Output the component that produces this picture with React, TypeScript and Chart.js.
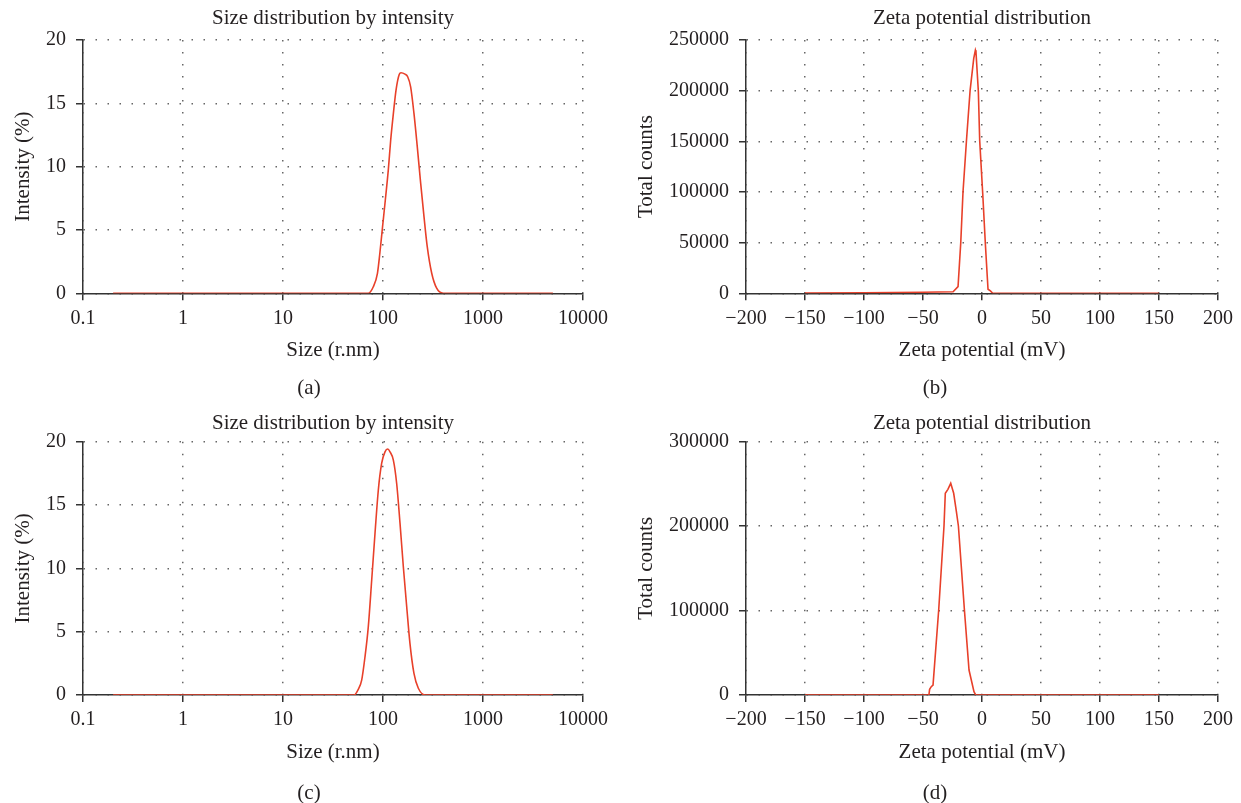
import React, { useEffect, useRef } from 'react';
import { Chart, registerables } from 'chart.js';

Chart.register(...registerables);

// ---------- data ----------
const SIZE_TICKS = [0.1, 1, 10, 100, 1000, 10000];
const ZETA_TICKS = [-200, -150, -100, -50, 0, 50, 100, 150, 200];

// (a) size distribution by intensity
const SIZE_A_X = [0.2, 71, 80, 88, 93, 99, 105.5, 113, 119.4, 127, 135, 145.6, 151.4, 166, 176.5, 189, 204, 220, 238, 257, 277, 307, 344, 401, 5000];
const SIZE_A_Y = [0, 0, 0.52, 1.58, 3.16, 5.26, 7.37, 9.74, 12.1, 14.2, 16.05, 17.3, 17.42, 17.3, 17.1, 16.3, 14.2, 11.6, 8.7, 6.05, 3.68, 1.58, 0.4, 0, 0];

// (b) zeta potential distribution
const ZETA_B_X = [-150, -100, -50, -24.5, -20.3, -18, -16.1, -13.2, -10.1, -7, -5.6, -5.1, -3.1, -1.95, 0.6, 2.85, 4.55, 5.1, 7.1, 9.1, 150];
const ZETA_B_Y = [300, 600, 1000, 1500, 6600, 50000, 100000, 150000, 200000, 231800, 240000, 238000, 199400, 150700, 98700, 48700, 14900, 4000, 2400, 0, 0];

// (c) size distribution by intensity
const SIZE_C_X = [0.2, 51.3, 56.6, 61.2, 66.1, 71.3, 77.1, 83.2, 89.8, 97, 104.7, 111.4, 117.5, 126.9, 137, 148, 159.7, 172.6, 186, 204, 225.6, 263, 5000];
const SIZE_C_Y = [0, 0, 0.45, 1.18, 3.03, 5.4, 9.08, 12.77, 16.19, 18.3, 19.2, 19.42, 19.2, 18.55, 16.7, 13.55, 10.13, 6.97, 4.08, 1.71, 0.53, 0, 0];

// (d) zeta potential distribution
const ZETA_D_X = [-150, -45, -44.4, -43, -41.5, -36.7, -32.2, -31.1, -28.9, -26.5, -24, -21.7, -20, -14.9, -11, -6.8, -5.3, 150];
const ZETA_D_Y = [0, 0, 6700, 9900, 11800, 100700, 200200, 238900, 243600, 250700, 238900, 217100, 200200, 100700, 29600, 4000, 0, 0];

const SIZE_Y_TICKS = { min: 0, max: 20, step: 5 };
const ZETA_B_Y_TICKS = { min: 0, max: 250000, step: 50000 };
const ZETA_D_Y_TICKS = { min: 0, max: 300000, step: 100000 };

// ---------- styles ----------
const LINE_COLOR = '#e8402a';
const TEXT_COLOR = '#231f20';
const AXIS_COLOR = '#333333';
const GRID_COLOR = '#666666';
const FONT_FAMILY = '"Liberation Serif", "Times New Roman", serif';

type PanelDef = {
  key: string;
  left: number; top: number; width: number; height: number;
  area: { left: number; right: number; top: number; bottom: number };
  kind: 'size' | 'zeta';
  xs: number[]; ys: number[];
  yTicks: { min: number; max: number; step: number };
  title: string; xTitle: string; yTitle: string; caption: string;
  titleY: number; xTitleY: number; yTitleX: number; captionX: number; captionY: number;
};

const PANELS: PanelDef[] = [
  {
    key: 'a', left: 0, top: 0, width: 620, height: 400,
    area: { left: 83, right: 583, top: 40, bottom: 293.3 },
    kind: 'size', xs: SIZE_A_X, ys: SIZE_A_Y, yTicks: SIZE_Y_TICKS,
    title: 'Size distribution by intensity', xTitle: 'Size (r.nm)', yTitle: 'Intensity (%)', caption: '(a)',
    titleY: 18, xTitleY: 350, yTitleX: 23.5, captionX: 309, captionY: 388,
  },
  {
    key: 'b', left: 620, top: 0, width: 621, height: 400,
    area: { left: 126, right: 598, top: 40, bottom: 293.3 },
    kind: 'zeta', xs: ZETA_B_X, ys: ZETA_B_Y, yTicks: ZETA_B_Y_TICKS,
    title: 'Zeta potential distribution', xTitle: 'Zeta potential (mV)', yTitle: 'Total counts', caption: '(b)',
    titleY: 18, xTitleY: 350, yTitleX: 26, captionX: 315, captionY: 388,
  },
  {
    key: 'c', left: 0, top: 400, width: 620, height: 403,
    area: { left: 83, right: 583, top: 41.7, bottom: 295 },
    kind: 'size', xs: SIZE_C_X, ys: SIZE_C_Y, yTicks: SIZE_Y_TICKS,
    title: 'Size distribution by intensity', xTitle: 'Size (r.nm)', yTitle: 'Intensity (%)', caption: '(c)',
    titleY: 23.5, xTitleY: 352, yTitleX: 23.5, captionX: 309, captionY: 393,
  },
  {
    key: 'd', left: 620, top: 400, width: 621, height: 403,
    area: { left: 126, right: 598, top: 41.7, bottom: 295 },
    kind: 'zeta', xs: ZETA_D_X, ys: ZETA_D_Y, yTicks: ZETA_D_Y_TICKS,
    title: 'Zeta potential distribution', xTitle: 'Zeta potential (mV)', yTitle: 'Total counts', caption: '(d)',
    titleY: 23.5, xTitleY: 352, yTitleX: 26, captionX: 315, captionY: 393,
  },
];

function fmtZeta(v: number): string {
  return v < 0 ? '\u2212' + Math.abs(v) : String(v);
}

function buildConfig(p: PanelDef): any {
  const points = p.xs.map((x, i) => ({ x, y: p.ys[i] }));
  const tickFont = { family: FONT_FAMILY, size: 20 };
  const gridCommon = {
    color: GRID_COLOR,
    lineWidth: 1.5,
    drawTicks: true,
    tickLength: 7,
    tickColor: AXIS_COLOR,
    tickWidth: 1.5,
    tickBorderDash: [],
  };
  const borderCommon = { display: true, color: AXIS_COLOR, width: 1.5, dash: [1.5, 10.5] };

  const textPlugin = {
    id: 'panelText' + p.key,
    afterDraw(chart: any) {
      const ctx = chart.ctx;
      const ca = chart.chartArea;
      const cx = (ca.left + ca.right) / 2;
      const cy = (ca.top + ca.bottom) / 2;
      ctx.save();
      ctx.fillStyle = TEXT_COLOR;
      ctx.font = `21px ${FONT_FAMILY}`;
      ctx.textAlign = 'center';
      ctx.textBaseline = 'middle';
      ctx.fillText(p.title, cx, p.titleY);
      ctx.fillText(p.xTitle, cx, p.xTitleY);
      ctx.fillText(p.caption, p.captionX, p.captionY);
      ctx.translate(p.yTitleX, cy);
      ctx.rotate(-Math.PI / 2);
      ctx.fillText(p.yTitle, 0, 0);
      ctx.restore();
    },
  };

  const xScale: any = p.kind === 'size'
    ? {
        type: 'logarithmic',
        min: SIZE_TICKS[0],
        max: SIZE_TICKS[SIZE_TICKS.length - 1],
        afterBuildTicks: (s: any) => { s.ticks = SIZE_TICKS.map((v) => ({ value: v })); },
        ticks: {
          font: tickFont, color: TEXT_COLOR, padding: 6, maxRotation: 0, autoSkip: false,
          callback: (v: any) => String(v),
        },
      }
    : {
        type: 'linear',
        min: ZETA_TICKS[0],
        max: ZETA_TICKS[ZETA_TICKS.length - 1],
        afterBuildTicks: (s: any) => { s.ticks = ZETA_TICKS.map((v) => ({ value: v })); },
        ticks: {
          font: tickFont, color: TEXT_COLOR, padding: 6, maxRotation: 0, autoSkip: false,
          callback: (v: any) => fmtZeta(Number(v)),
        },
      };
  xScale.grid = gridCommon;
  xScale.border = borderCommon;
  xScale.afterFit = (s: any) => { s.height = p.height - p.area.bottom; };

  const yScale: any = {
    type: 'linear',
    min: p.yTicks.min,
    max: p.yTicks.max,
    ticks: {
      stepSize: p.yTicks.step, font: tickFont, color: TEXT_COLOR, padding: 10,
      callback: (v: any) => String(v),
    },
    grid: gridCommon,
    border: borderCommon,
    afterFit: (s: any) => { s.width = p.area.left; },
  };

  return {
    type: 'line',
    data: {
      datasets: [
        {
          data: points,
          borderColor: LINE_COLOR,
          borderWidth: 1.6,
          pointRadius: 0,
          fill: false,
          tension: p.kind === 'size' ? 0.4 : 0,
          cubicInterpolationMode: p.kind === 'size' ? 'monotone' : 'default',
        },
      ],
    },
    options: {
      responsive: false,
      animation: false,
      devicePixelRatio: 1,
      parsing: true,
      layout: {
        padding: {
          left: 0,
          right: p.width - p.area.right,
          top: p.area.top,
          bottom: 0,
        },
      },
      plugins: {
        legend: { display: false },
        title: { display: false },
        tooltip: { enabled: false },
      },
      scales: { x: xScale, y: yScale },
    },
    plugins: [textPlugin],
  };
}

function Panel({ p }: { p: PanelDef }) {
  const ref = useRef<HTMLCanvasElement | null>(null);
  useEffect(() => {
    if (!ref.current) return;
    const chart = new Chart(ref.current, buildConfig(p));
    return () => chart.destroy();
  }, [p]);
  return (
    <canvas
      ref={ref}
      width={p.width}
      height={p.height}
      style={{ position: 'absolute', left: p.left, top: p.top, width: p.width, height: p.height }}
    />
  );
}

export default function App() {
  return (
    <div style={{ position: 'absolute', left: 0, top: 0, width: 1241, height: 803, background: '#ffffff', overflow: 'hidden' }}>
      {PANELS.map((p) => (
        <Panel key={p.key} p={p} />
      ))}
    </div>
  );
}
